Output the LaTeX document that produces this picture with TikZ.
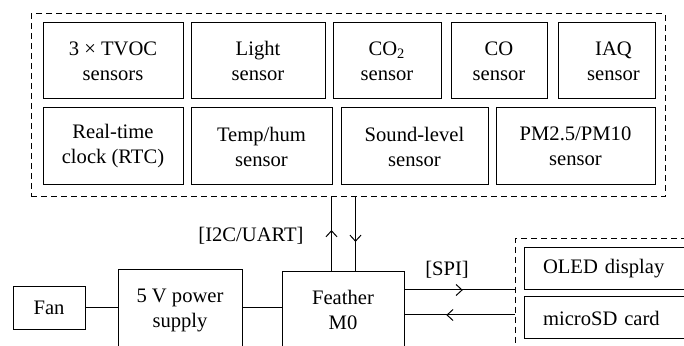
\documentclass[tikz,border=0pt]{standalone}
\usepackage{fontspec}
\setmainfont{Liberation Serif}
\usetikzlibrary{calc,arrows.meta,decorations.markings}
\tikzset{
  box/.style={draw, line width=0.5pt, align=center, inner sep=0pt, font=\fontsize{10.3}{12.5}\selectfont},
  dbox/.style={draw, line width=0.5pt, dash pattern=on 3pt off 2pt, inner sep=0pt},
  lbox/.style={draw, line width=0.5pt, align=left, inner xsep=9.5pt, inner ysep=0pt, font=\fontsize{10.3}{12.5}\selectfont},
  conn/.style={line width=0.5pt},
  midarrow/.style={conn, decoration={markings, mark=at position #1 with {\arrow{Straight Barb[length=3pt,width=5.5pt,line width=0.5pt]}}}, postaction={decorate}},
  midarrow/.default=0.55,
  lab/.style={font=\fontsize{10.3}{12.5}\selectfont, inner sep=0pt}
}
\begin{document}
\begin{tikzpicture}[x=0.5pt,y=-0.5pt]
\useasboundingbox (0,0) rectangle (684,346);
\clip (0,0) rectangle (684,346);
% sensors group
\node[dbox, minimum width=317pt, minimum height=91.5pt] (sensors) at (348,105.5) {};
\node[box, minimum width=70pt, minimum height=38pt] (tvoc) at (113,61) {3 × TVOC\\sensors};
\node[box, minimum width=67pt, minimum height=38pt] (light) at (258,61) {Light\\sensor};
\node[box, minimum width=54pt, minimum height=38pt] (co2) at (387,61) {CO\textsubscript{2}\\sensor};
\node[box, minimum width=48pt, minimum height=38pt] (co) at (499,61) {CO\\sensor};
\node[box, minimum width=48.5pt, minimum height=38pt] (iaq) at (606.5,61) {\hspace*{7pt}IAQ\\\hspace*{7pt}sensor};
\node[box, minimum width=70pt, minimum height=38.5pt] (rtc) at (113,146.5) {Real-time\\clock (RTC)};
\node[box, minimum width=70.5pt, minimum height=38.5pt] (temp) at (261.5,146.5) {Temp/hum\\sensor};
\node[box, minimum width=73.5pt, minimum height=38.5pt] (sound) at (414.5,146.5) {Sound-level\\sensor};
\node[box, minimum width=79.5pt, minimum height=38.5pt] (pm) at (575.5,146.5) {PM2.5/PM10\\sensor};
% lower blocks
\node[box, minimum width=36pt, minimum height=21.5pt] (fan) at (49,308) {Fan};
\node[box, minimum width=62pt, minimum height=40pt] (psu) at (180,310) {5 V power\\supply};
\node[box, minimum width=61pt, minimum height=38pt] (feather) at (343,310) {Feather\\M0};
% peripherals group
\node[dbox, minimum width=92.5pt, minimum height=61pt] (periph) at (607.5,300) {};
\node[lbox, text width=69pt, minimum height=21pt] (oled) at (612,269) {OLED display};
\node[lbox, text width=69pt, minimum height=21pt] (sd) at (612,318) {microSD card};
% connectors
\draw[conn] (fan.east) -- (fan.east -| psu.west);
\draw[conn] (psu.east |- fan.east) -- (feather.west |- fan.east);
\coordinate (up) at ($(feather.north west)+(50,0)$);
\coordinate (dn) at ($(feather.north west)+(74,0)$);
\draw[midarrow=0.56] (up) -- (up |- sensors.south);
\draw[midarrow=0.6] (dn |- sensors.south) -- (dn);
\coordinate (s1) at ($(feather.east)+(0,-20)$);
\coordinate (s2) at ($(feather.east)+(0,5)$);
\draw[midarrow=0.53] (s1) -- (s1 -| periph.west);
\draw[midarrow=0.62] (s2 -| periph.west) -- (s2);
% labels
\node[lab] (i2c) at (251,236) {[I2C/UART]};
\node[lab] (spi) at (447,270) {[SPI]};
\end{tikzpicture}
\end{document}
